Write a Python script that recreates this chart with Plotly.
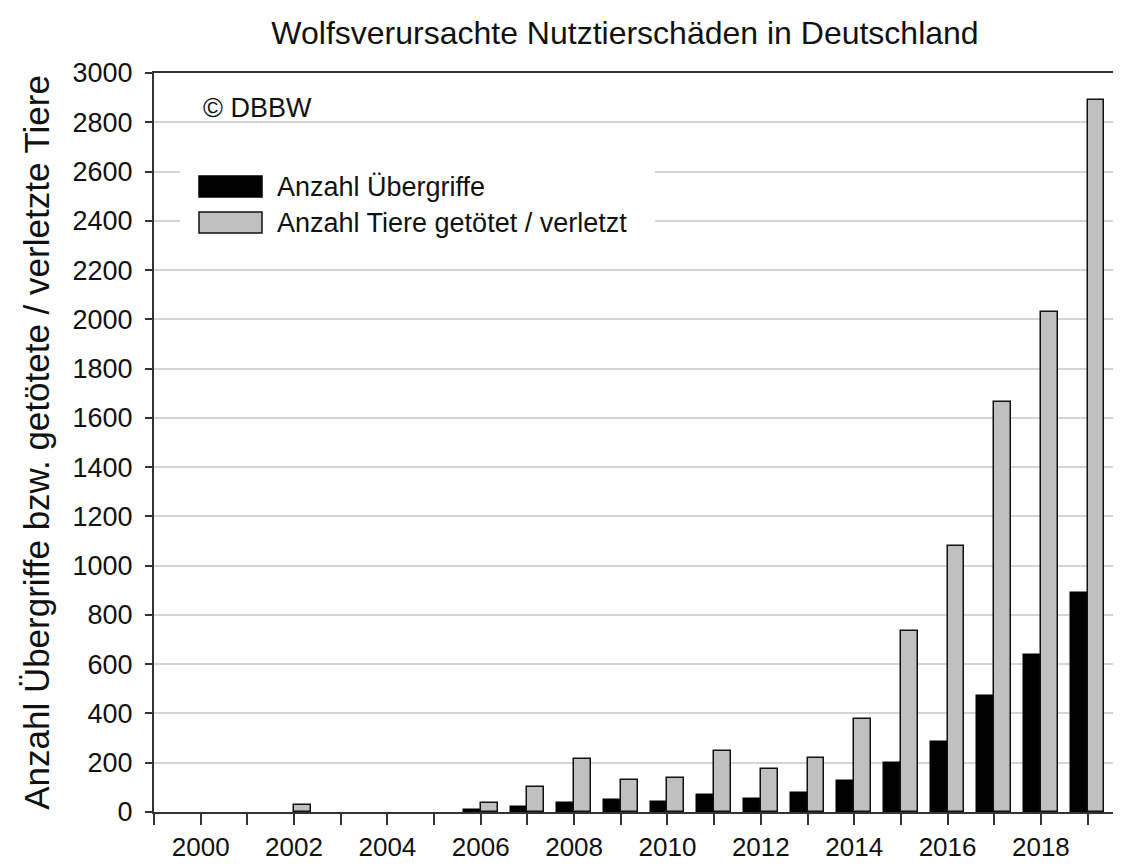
import plotly.graph_objects as go

years = list(range(2000, 2020))
uebergriffe = [0, 0, 0, 0, 0, 0, 10, 22, 36, 47, 42, 68, 54, 76, 126, 199, 286, 472, 637, 888]
tiere = [0, 0, 30, 0, 0, 0, 36, 100, 214, 129, 138, 247, 174, 218, 376, 736, 1080, 1665, 2030, 2890]
x_labels = [str(y) for y in range(2000, 2020, 2)]
y_ticks = list(range(0, 3001, 200))

title_text = "Wolfsverursachte Nutztierschäden in Deutschland"
y_title = "Anzahl Übergriffe bzw. getötete / verletzte Tiere"
name1 = "Anzahl Übergriffe"
name2 = "Anzahl Tiere getötet / verletzt"

FONT = "Liberation Sans, Arial, sans-serif"
BW = 0.36
OFF = 8  # default page body margin

fig = go.Figure()
fig.add_trace(go.Bar(
    x=years, y=uebergriffe, name=name1, width=BW, offset=-BW,
    marker=dict(color="#000000",
                line=dict(color="#000000", width=[0 if v == 0 else 1.5 for v in uebergriffe])),
    showlegend=False,
))
fig.add_trace(go.Bar(
    x=years, y=tiere, name=name2, width=BW, offset=0,
    marker=dict(color="#c0c0c0",
                line=dict(color="#111111", width=[0 if v == 0 else 1.5 for v in tiere])),
    showlegend=False,
))

W, H = 1121 - OFF, 868 - OFF
L, R, T, B = 154 - OFF, 4, 73 - OFF, 56
pw, ph = W - L - R, H - T - B

def px(xs):
    return (xs - OFF - L) / pw

def py(ys):
    return (868 - B - ys) / ph

TXT = "#111111"
shapes = [
    dict(type="rect", xref="paper", yref="paper", x0=px(180), x1=px(655), y0=py(245), y1=py(160),
         fillcolor="white", line=dict(width=0), layer="above"),
    dict(type="rect", xref="paper", yref="paper", x0=px(199), x1=px(262), y0=py(197), y1=py(176),
         fillcolor="#000000", line=dict(color="#000000", width=1.5), layer="above"),
    dict(type="rect", xref="paper", yref="paper", x0=px(199), x1=px(262), y0=py(233), y1=py(212),
         fillcolor="#c0c0c0", line=dict(color="#111111", width=1.5), layer="above"),
]
annotations = [
    dict(text="© DBBW", xref="paper", yref="paper", x=px(201), y=py(108), xanchor="left", yanchor="middle",
         showarrow=False, font=dict(family=FONT, size=27, color=TXT)),
    dict(text=name1, xref="paper", yref="paper", x=px(275), y=py(187), xanchor="left", yanchor="middle",
         showarrow=False, font=dict(family=FONT, size=27, color=TXT)),
    dict(text=name2, xref="paper", yref="paper", x=px(275), y=py(223), xanchor="left", yanchor="middle",
         showarrow=False, font=dict(family=FONT, size=27, color=TXT)),
]

fig.update_layout(
    width=W, height=H,
    margin=dict(l=L, r=R, t=T, b=B),
    paper_bgcolor="white", plot_bgcolor="white",
    font=dict(family=FONT, color=TXT),
    title=dict(text=title_text, x=px(625), xref="paper", xanchor="center",
               y=1 - (33 - OFF) / H, yanchor="middle", font=dict(family=FONT, size=32, color=TXT)),
    shapes=shapes, annotations=annotations,
    bargap=0,
)
fig.update_xaxes(
    range=[1999, 2019.63],
    tickvals=list(range(2000, 2020, 2)), ticktext=x_labels,
    ticks="outside", ticklen=11, tickwidth=2, tickcolor="#333333",
    minor=dict(tickvals=list(range(1999, 2020)), ticks="outside", ticklen=11, tickwidth=2, tickcolor="#333333"),
    showline=True, linecolor="#333333", linewidth=2, mirror=True,
    showgrid=False, zeroline=False,
    tickfont=dict(family=FONT, size=26, color=TXT),
)
fig.update_yaxes(
    range=[0, 3000], tickvals=y_ticks,
    ticks="outside", ticklen=7, tickwidth=2, tickcolor="#333333",
    ticklabelstandoff=7,
    showline=True, linecolor="#333333", linewidth=2,
    showgrid=True, gridcolor="#d4d4d4", gridwidth=2, zeroline=False,
    tickfont=dict(family=FONT, size=27, color=TXT),
    title=dict(text=y_title, standoff=12, font=dict(family=FONT, size=35, color=TXT)),
)

fig.write_html("out.html")
